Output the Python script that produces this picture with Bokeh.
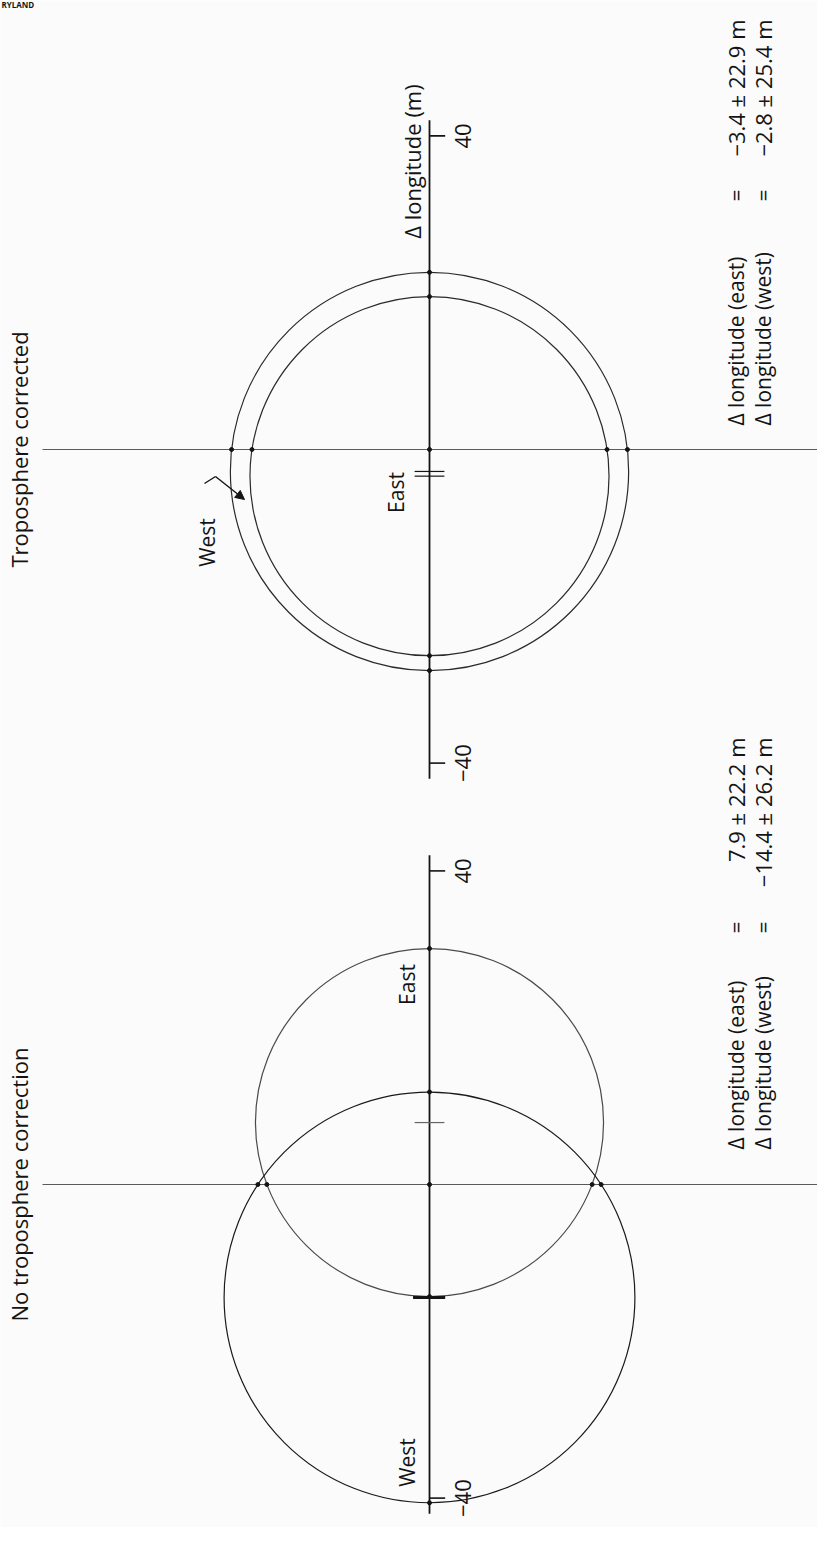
import numpy as np
from bokeh.plotting import figure
from bokeh.models import Arrow, NormalHead
from bokeh.core.properties import value
from bokeh.embed import file_html
from bokeh.resources import INLINE

# ---------------- data ----------------
panel_titles = ["Troposphere corrected", "No troposphere correction"]
stations = ["East", "West"]
mean_corrected = [-3.4, -2.8]      # m  (east, west)
sigma_corrected = [22.9, 25.4]     # m
mean_uncorrected = [7.9, -14.4]    # m
sigma_uncorrected = [22.2, 26.2]   # m
tick_values = [-40, 40]
tick_labels = ["\u221240", "40"]
axis_title = "\u0394 longitude (m)"
ann_labels = ["\u0394 longitude (east)", "\u0394 longitude (west)"]
ann_corrected = ["\u22123.4 \u00b1 22.9 m", "\u22122.8 \u00b1 25.4 m"]
ann_uncorrected = ["7.9 \u00b1 22.2 m", "\u221214.4 \u00b1 26.2 m"]

# ---------------- layout ----------------
W, H = 817, 1527
S = 7.84                 # pixels per metre
AX_PX = 437              # page x of the longitude axes
Z_TOP, Z_BOT = 457, 1192 # page y of the zero lines


def X(px):
    return (px - AX_PX) / S


def Y(py):
    return (Z_BOT - py) / S


offsets = [Y(Z_TOP), Y(Z_BOT)]
FONT = value("Open Sans")
INK = "#141414"

p = figure(width=W, height=H, x_range=(X(8), X(8 + W)), y_range=(Y(8 + H), Y(8)),
           output_backend="svg", toolbar_location=None, min_border=0,
           x_axis_location=None, y_axis_location=None,
           background_fill_color="#fbfbfb", border_fill_color="#fbfbfb")
p.grid.visible = False
p.outline_line_color = None


def txt(x, y, t, size="21px", align="center", angle=np.pi / 2, style="normal"):
    p.text(x=[x], y=[y], text=[t], angle=angle, text_align=align,
           text_baseline="middle", text_font=FONT, text_font_size=size,
           text_color=INK, text_font_style=style)


panels = [(mean_corrected, sigma_corrected), (mean_uncorrected, sigma_uncorrected)]
circle_cols = [["#2a2a2a", "#2a2a2a"], ["#4a4a4a", "#1a1a1a"]]
for k, (means, sigmas) in enumerate(panels):
    off = offsets[k]
    # zero line (horizontal) and longitude axis (vertical)
    p.segment(x0=[X(50)], x1=[X(830)], y0=[off], y1=[off], line_color="#5a5a5a", line_width=1.1)
    p.segment(x0=[0], x1=[0], y0=[off - 42], y1=[off + 42], line_color=INK, line_width=1.8)
    # ticks and tick labels
    for tv, tl in zip(tick_values, tick_labels):
        p.segment(x0=[0], x1=[2.0], y0=[off + tv], y1=[off + tv], line_color=INK, line_width=1.6)
        txt(X(470), off + tv, tl, size="22px")
    # error circles
    for j, (m, s) in enumerate(zip(means, sigmas)):
        p.circle(x=[0], y=[off + m], radius=[s], fill_color=None,
                 line_color=circle_cols[k][j], line_width=1.2)
        hx = np.sqrt(s ** 2 - m ** 2)
        p.scatter(x=[0, 0, -hx, hx], y=[off + m + s, off + m - s, off, off],
                  size=4, color=INK)
    p.scatter(x=[0], y=[off], size=4, color=INK)
    # title
    txt(X(26), off, panel_titles[k], size="22px")

# mean markers
for m in mean_corrected:
    p.segment(x0=[-1.9], x1=[1.9], y0=[offsets[0] + m], y1=[offsets[0] + m],
              line_color=INK, line_width=1.2)
p.segment(x0=[-1.9], x1=[1.9], y0=[offsets[1] + mean_uncorrected[0]],
          y1=[offsets[1] + mean_uncorrected[0]], line_color="#666666", line_width=1.2)
p.segment(x0=[-2.1], x1=[2.0], y0=[offsets[1] + mean_uncorrected[1]],
          y1=[offsets[1] + mean_uncorrected[1]], line_color=INK, line_width=3)

# station labels
txt(X(403), Y(500), stations[0])
txt(X(214), Y(550), stations[1])
txt(X(414), Y(992), stations[0])
txt(X(414), Y(1470), stations[1])

# West leader arrow (top panel)
p.line(x=[X(212), X(223)], y=[Y(491), Y(484)], line_color=INK, line_width=1.4)
p.add_layout(Arrow(x_start=X(223), y_start=Y(484), x_end=X(252), y_end=Y(507),
                   line_color=INK, line_width=1.4,
                   end=NormalHead(size=9, fill_color=INK, line_color=INK)))

# axis title
txt(X(419), Y(169), axis_title, size="22px")

# statistics
ann_rows = [(ann_corrected, 433, 203, 27), (ann_uncorrected, 1157, 935, 745)]
for vals, y_lab, y_eq, y_end in ann_rows:
    for i, xp in enumerate([743, 770]):
        txt(X(xp), Y(y_lab), ann_labels[i], align="left")
        txt(X(xp), Y(y_eq), "=")
        txt(X(xp), Y(y_end), vals[i], size="22px", align="right")

# scan header fragment
p.text(x=[X(9)], y=[Y(12)], text=["RYLAND"], text_font=FONT, text_font_size="8px",
       text_font_style="bold", text_color=INK, text_baseline="middle", text_align="left")

open("out.html", "w").write(file_html(p, INLINE))
